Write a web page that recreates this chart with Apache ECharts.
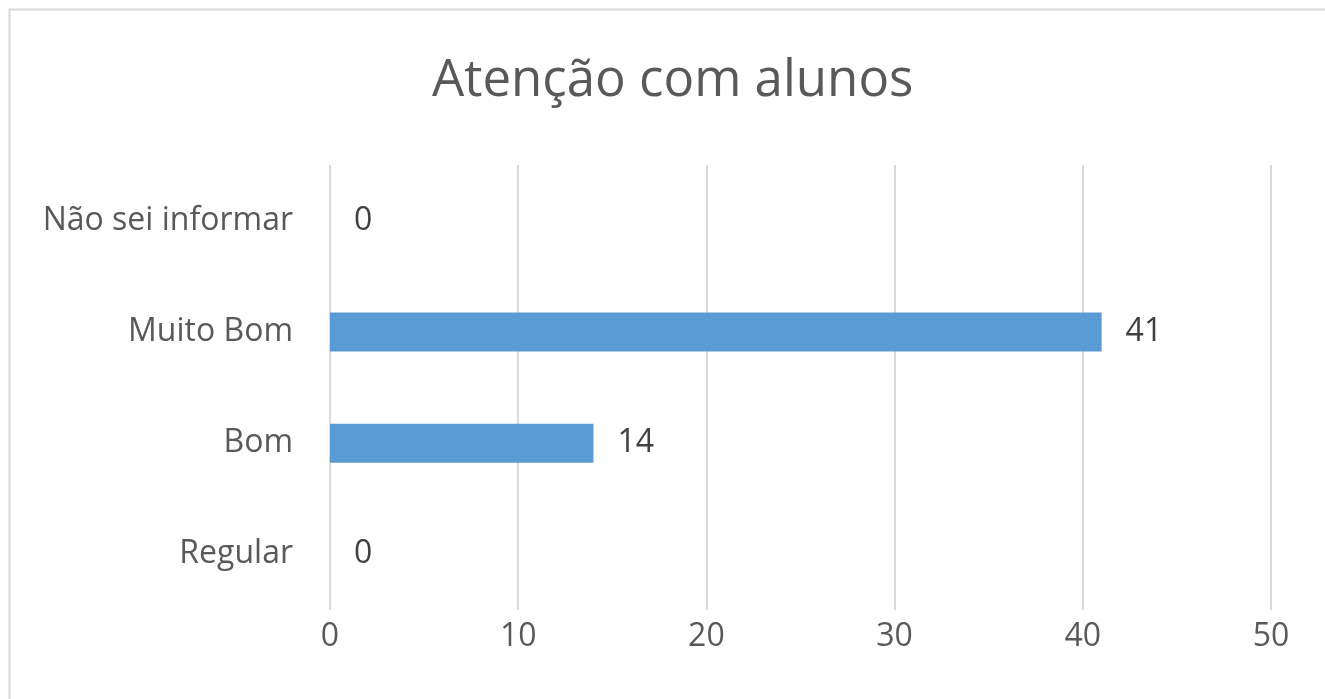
<!DOCTYPE html>
<html><head><meta charset="utf-8">
<script src="https://cdn.jsdelivr.net/npm/echarts@6/dist/echarts.min.js"></script>
<style>html,body{margin:0;padding:0;background:#fff}#c{width:1325px;height:699px}</style>
</head><body><div id="c"></div>
<script>
const title = 'Atenção com alunos';
const categories = ['Regular', 'Bom', 'Muito Bom', 'Não sei informar'];
const values = [0, 14, 41, 0];
const xTicks = {min: 0, max: 50, interval: 10};

const chart = echarts.init(document.getElementById('c'), null, {renderer: 'canvas'});
const font = '"Open Sans", sans-serif';
chart.setOption({
  animation: false,
  backgroundColor: '#fff',
  graphic: [{type: 'rect', shape: {x: 9.5, y: 9.5, width: 1400, height: 800}, style: {fill: null, stroke: '#d9d9d9', lineWidth: 2}, z: -1}],
  title: {text: title, left: 427, top: 51, textStyle: {fontFamily: font, fontSize: 51, fontWeight: 'normal', color: '#595959'}},
  grid: {left: 330, right: 54, top: 165, bottom: 89, containLabel: false},
  xAxis: {type: 'value', min: xTicks.min, max: xTicks.max, interval: xTicks.interval,
    axisLine: {show: false}, axisTick: {show: false},
    splitLine: {lineStyle: {color: '#d9d9d9', width: 2}},
    axisLabel: {fontFamily: font, fontSize: 32, color: '#595959', margin: 11}},
  yAxis: {type: 'category', data: categories,
    axisLine: {show: false}, axisTick: {show: false},
    axisLabel: {fontFamily: font, fontSize: 32, color: '#595959', margin: 37}},
  series: [{type: 'bar', data: values, barWidth: 39, itemStyle: {color: '#5b9bd5'},
    label: {show: true, position: 'right', distance: 24, fontFamily: font, fontSize: 32, color: '#404040'}}]
});
</script></body></html>
